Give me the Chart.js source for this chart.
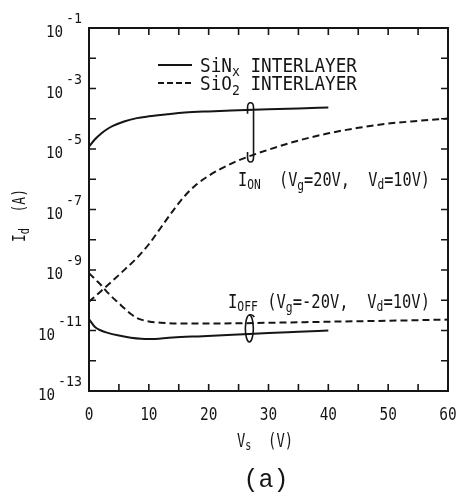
<!DOCTYPE html>
<html lang="en">
<head>
<meta charset="UTF-8">
<title>Id x Vs</title>
<script src="https://cdn.jsdelivr.net/npm/chart.js"></script>
<style>
  html, body { margin: 0; padding: 0; background: #fff; }
  #wrap { width: 459px; height: 492px; }
</style>
</head>
<body>
<div id="wrap"><canvas id="grafico"></canvas></div>
<script>
// tensão Vs (V) e corrente Id (A)
const vsSinOn = [0, 1, 2, 3, 4, 6, 8, 10, 13, 16, 20, 25, 30, 35, 40];
const idSinOn = [1.2e-5, 2.1e-5, 3.2e-5, 4.5e-5, 5.8e-5, 8.3e-5, 1.05e-4, 1.2e-4, 1.4e-4, 1.6e-4, 1.75e-4, 1.9e-4, 2.05e-4, 2.2e-4, 2.35e-4];

const vsSioOn = [0, 2, 4, 6, 8, 10, 12, 14, 16, 18, 20, 22, 25, 30, 35, 40, 45, 50, 55, 60];
const idSioOn = [8.9e-11, 2.0e-10, 4.5e-10, 1.05e-9, 2.5e-9, 7.1e-9, 2.5e-8, 8.9e-8, 2.8e-7, 6.8e-7, 1.3e-6, 2.2e-6, 4.2e-6, 9.5e-6, 1.9e-5, 3.3e-5, 5.0e-5, 6.9e-5, 8.5e-5, 1.02e-4];

const vsSioOff = [0, 1, 2, 3, 4, 5, 6, 7, 8, 9, 10, 12, 15, 20, 30, 40, 50, 60];
const idSioOff = [7.9e-10, 5.0e-10, 3.2e-10, 1.9e-10, 1.2e-10, 7.9e-11, 5.2e-11, 3.5e-11, 2.6e-11, 2.2e-11, 2.0e-11, 1.8e-11, 1.7e-11, 1.7e-11, 1.8e-11, 1.95e-11, 2.1e-11, 2.3e-11];

const vsSinOff = [0, 1, 2, 3, 5, 7, 10, 14, 19, 24, 30, 35, 40];
const idSinOff = [2.4e-11, 1.3e-11, 1.0e-11, 8.5e-12, 6.8e-12, 5.8e-12, 5.2e-12, 5.9e-12, 6.5e-12, 7.2e-12, 8.3e-12, 9.1e-12, 1.0e-11];

const xRotulos = [0, 10, 20, 30, 40, 50, 60];
const yExpoentes = [-1, -3, -5, -7, -9, -11, -13];

const FONTE = '"DejaVu Sans Mono", monospace';

function pontos(xs, ys) {
    return xs.map((v, i) => ({ x: v, y: ys[i] }));
}

// interpola em log para achar a corrente numa tensão qualquer
function valorEm(xs, ys, v) {
    for (let i = 1; i < xs.length; i++) {
        if (v <= xs[i]) {
            const t = (v - xs[i - 1]) / (xs[i] - xs[i - 1]);
            const l = Math.log10(ys[i - 1]) + t * (Math.log10(ys[i]) - Math.log10(ys[i - 1]));
            return Math.pow(10, l);
        }
    }
    return ys[ys.length - 1];
}

// partes: [texto, fator de tamanho, deslocamento vertical]
function escrever(ctx, partes, x, y, tam, op) {
    op = op || {};
    let larg = 0;
    const med = partes.map(p => {
        ctx.font = Math.round(tam * p[1]) + 'px ' + (op.fonte || FONTE);
        const w = ctx.measureText(p[0]).width;
        larg += w;
        return w;
    });
    const sx = op.largura ? op.largura / larg : (op.sx || 1);
    let x0 = x;
    if (op.alinhar === 'right') x0 = x - larg * sx;
    if (op.alinhar === 'center') x0 = x - larg * sx / 2;
    ctx.save();
    ctx.translate(x0, y);
    ctx.scale(sx, 1);
    ctx.textBaseline = 'alphabetic';
    ctx.textAlign = 'left';
    let cx = 0;
    partes.forEach((p, i) => {
        ctx.font = Math.round(tam * p[1]) + 'px ' + (op.fonte || FONTE);
        ctx.fillText(p[0], cx, p[2]);
        cx += med[i];
    });
    ctx.restore();
}

const desenho = {
    id: 'desenho',
    afterDatasetsDraw(chart) {
        const ctx = chart.ctx;
        const a = chart.chartArea;
        const sx = chart.scales.x;
        const sy = chart.scales.y;
        ctx.save();
        ctx.strokeStyle = '#151515';
        ctx.fillStyle = '#151515';

        // moldura
        ctx.lineWidth = 2;
        ctx.strokeRect(a.left, a.top, a.right - a.left, a.bottom - a.top);

        // marcas para dentro
        ctx.lineWidth = 1.6;
        ctx.beginPath();
        for (let v = 5; v < 60; v += 5) {
            const px = sx.getPixelForValue(v);
            ctx.moveTo(px, a.bottom); ctx.lineTo(px, a.bottom - 7);
            ctx.moveTo(px, a.top); ctx.lineTo(px, a.top + 7);
        }
        for (let e = -12; e <= -2; e++) {
            const py = sy.getPixelForValue(Number('1e' + e));
            ctx.moveTo(a.left, py); ctx.lineTo(a.left + 7, py);
            ctx.moveTo(a.right, py); ctx.lineTo(a.right - 7, py);
        }
        ctx.stroke();

        // rótulos do eixo x
        xRotulos.forEach(v => {
            escrever(ctx, [[String(v), 1, 0]], sx.getPixelForValue(v), a.bottom + 29, 17, { alinhar: 'center', sx: 0.85 });
        });

        // rótulos do eixo y (10 elevado)
        yExpoentes.forEach(e => {
            const py = sy.getPixelForValue(Number('1e' + e));
            escrever(ctx, [['10', 1, 0], [' ', 0.35, 0], [String(e), 0.95, -14]], a.left - 7, py + 9, 15, { alinhar: 'right', sx: 0.95 });
        });

        // títulos
        escrever(ctx, [['V', 1, 0], ['s', 0.75, 3], ['  (V)', 1, 0]], 237, 447, 19, { largura: 56 });
        escrever(ctx, [['(a)', 1, 0]], 266, 487, 25, { alinhar: 'center', fonte: '"Liberation Mono", monospace' });
        ctx.save();
        ctx.translate(25, 242);
        ctx.rotate(-Math.PI / 2);
        escrever(ctx, [['I', 1, 0], ['d', 0.75, 4], ['  (A)', 1, 0]], 0, 0, 18, { largura: 53 });
        ctx.restore();

        // legenda
        ctx.lineWidth = 2;
        ctx.beginPath();
        ctx.moveTo(158, 65); ctx.lineTo(192, 65);
        ctx.stroke();
        ctx.setLineDash([6, 3]);
        ctx.beginPath();
        ctx.moveTo(158, 83); ctx.lineTo(192, 83);
        ctx.stroke();
        ctx.setLineDash([]);
        escrever(ctx, [['SiN', 1, 0], ['x', 0.75, 4], [' INTERLAYER', 1, 0]], 200, 72, 19, { largura: 157 });
        escrever(ctx, [['SiO', 1, 0], ['2', 0.75, 5], [' INTERLAYER', 1, 0]], 200, 90, 19, { largura: 157 });

        // anotações ION / IOFF
        escrever(ctx, [['I', 1, 0], ['ON', 0.75, 3], ['  (V', 1, 0], ['g', 0.75, 4], ['=20V,  V', 1, 0], ['d', 0.75, 3], ['=10V)', 1, 0]], 238, 186, 19, { largura: 192 });
        escrever(ctx, [['I', 1, 0], ['OFF', 0.75, 3], [' (V', 1, 0], ['g', 0.75, 4], ['=-20V,  V', 1, 0], ['d', 0.75, 3], ['=10V)', 1, 0]], 228, 308, 19, { largura: 202 });

        // colchete ION
        ctx.lineWidth = 1.6;
        let px = sx.getPixelForValue(27.5);
        let yTop = sy.getPixelForValue(valorEm(vsSinOn, idSinOn, 27.5));
        let yBot = sy.getPixelForValue(valorEm(vsSioOn, idSioOn, 27.5));
        ctx.beginPath();
        ctx.moveTo(px - 6, yTop + 4);
        ctx.lineTo(px - 6, yTop - 2);
        ctx.quadraticCurveTo(px - 6, yTop - 7, px - 3, yTop - 7);
        ctx.quadraticCurveTo(px, yTop - 7, px, yTop - 2);
        ctx.lineTo(px, yBot + 2);
        ctx.quadraticCurveTo(px, yBot + 7, px - 3, yBot + 7);
        ctx.quadraticCurveTo(px - 6, yBot + 7, px - 6, yBot + 2);
        ctx.lineTo(px - 6, yBot - 3);
        ctx.stroke();

        // colchete IOFF
        px = sx.getPixelForValue(26.8);
        yTop = sy.getPixelForValue(valorEm(vsSioOff, idSioOff, 26.8));
        yBot = sy.getPixelForValue(valorEm(vsSinOff, idSinOff, 26.8));
        const meio = (yTop + yBot) / 2;
        const raio = (yBot - yTop) / 2 + 8;
        ctx.beginPath();
        ctx.ellipse(px, meio, 4, raio, 0, 0, Math.PI * 2);
        ctx.stroke();
        ctx.beginPath();
        ctx.moveTo(px, meio - raio);
        ctx.quadraticCurveTo(px + 3, meio - raio - 1, px + 5, meio - raio + 2);
        ctx.stroke();

        ctx.restore();
    }
};

const linha = (dados, tracejado) => ({
    data: dados,
    borderColor: '#151515',
    borderWidth: 2,
    borderDash: tracejado ? [7, 4] : [],
    pointRadius: 0,
    cubicInterpolationMode: 'monotone',
    fill: false
});

const grafico = new Chart(document.getElementById('grafico'), {
    type: 'line',
    data: {
        datasets: [
            linha(pontos(vsSinOn, idSinOn), false),
            linha(pontos(vsSioOn, idSioOn), true),
            linha(pontos(vsSioOff, idSioOff), true),
            linha(pontos(vsSinOff, idSinOff), false)
        ]
    },
    options: {
        responsive: true,
        maintainAspectRatio: false,
        animation: false,
        layout: { padding: { left: 89, top: 28, right: 11, bottom: 101 } },
        plugins: { legend: { display: false }, tooltip: { enabled: false } },
        scales: {
            x: { type: 'linear', min: 0, max: 60, display: false },
            y: { type: 'logarithmic', min: 1e-13, max: 1e-1, display: false }
        }
    },
    plugins: [desenho]
});
</script>
</body>
</html>
